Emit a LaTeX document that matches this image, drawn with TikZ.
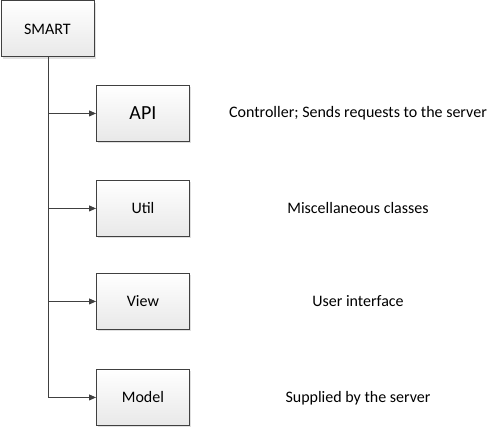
\documentclass[tikz,border=0pt]{standalone}
\usepackage{fontspec}
\setmainfont{Carlito}
\usetikzlibrary{arrows.meta,shadows}
\begin{document}
\begin{tikzpicture}[x=1pt,y=-1pt,
  box/.style={draw=black!75,line width=0.9pt,minimum width=93pt,minimum height=56pt,
    top color=white,bottom color=black!9,font=\fontsize{16}{18}\selectfont,
    drop shadow={shadow xshift=2pt,shadow yshift=-2pt,fill=black!12,opacity=1},inner sep=0pt},
  desc/.style={font=\fontsize{16}{18}\selectfont,anchor=center},
  conn/.style={draw=black!75,line width=0.9pt,-{Triangle[length=7pt,width=6pt]}}]
\useasboundingbox (0,0) rectangle (490,428);
\node[box,anchor=north west] (smart) at (0.5,0.5) {SMART};
\node[box,anchor=north west,font=\fontsize{20}{22}\selectfont] (api) at (96,85) {API};
\node[box,anchor=north west] (util) at (96,180) {Util};
\node[box,anchor=north west] (view) at (96,273) {View};
\node[box,anchor=north west] (model) at (96,369) {Model};
\node[desc] (dapi) at (358,113) {Controller; Sends requests to the server};
\node[desc] (dutil) at (358,208) {Miscellaneous classes};
\node[desc] (dview) at (358,301) {User interface};
\node[desc] (dmodel) at (358,398) {Supplied by the server};
\coordinate (top) at (48,0);
\draw[draw=black!75,line width=0.9pt] (smart.south -| top) -- (model.west -| top);
\foreach \n in {api,util,view,model}{
  \draw[conn] (\n.west -| top) -- (\n.west);
}
\end{tikzpicture}
\end{document}
